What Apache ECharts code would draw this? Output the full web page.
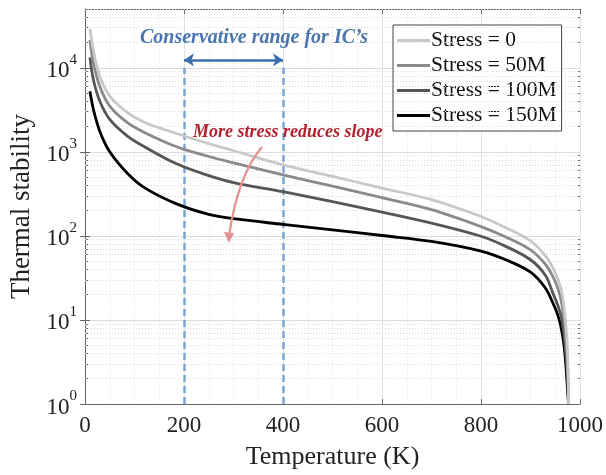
<!DOCTYPE html>
<html><head><meta charset="utf-8">
<script src="https://cdn.jsdelivr.net/npm/echarts@6/dist/echarts.min.js"></script>
<style>html,body{margin:0;padding:0;background:#fff}#c{width:606px;height:475px}</style>
</head><body><div id="c"></div>
<script>
// ---- data ----
const temperature = [10, 17, 30, 50, 85, 120, 185, 250, 300, 400, 500, 600, 700, 800, 850, 900, 930, 945, 955, 962, 968, 972, 975, 977];
const stress0   = [29000, 16000, 7900, 4600, 2950, 2250, 1650, 1250, 1030, 700, 510, 370, 270, 170, 125, 87, 58, 42, 31, 23, 14, 8, 4, 1];
const stress50  = [21500, 11400, 6000, 3500, 2240, 1700, 1150, 880, 740, 532, 390, 285, 205, 129, 97, 68, 46, 33, 24, 17, 10, 5.5, 2.8, 1];
const stress100 = [13300, 7200, 4000, 2430, 1550, 1150, 720, 520, 430, 335, 255, 192, 142, 99, 75, 52, 34, 21, 15, 11, 6.5, 3.6, 2, 1];
const stress150 = [5250, 3190, 1750, 1000, 560, 375, 240, 180, 160, 137, 118, 101, 86, 66, 52, 37, 24, 16, 11.5, 8, 4.8, 2.6, 1.4, 1];
const seriesNames = ['Stress = 0', 'Stress = 50M', 'Stress = 100M', 'Stress = 150M'];
const xTicks = [0, 200, 400, 600, 800, 1000];
const yDecades = [1, 10, 100, 1000, 10000];
const rangeBounds = [200, 400];
const rangeLineTop = 10000;
const arrowLevel = 12400;

const colors = ['#c9c9c9', '#8a8a8a', '#565656', '#000000'];
const allValues = [stress0, stress50, stress100, stress150];

const FONT = "'Liberation Serif', 'Times New Roman', serif";

// minor grid values (log 2..9)
const minorVals = [];
for (const d of yDecades) for (let k = 2; k <= 9; k++) { const v = d * k; if (v <= 50000) minorVals.push(v); }

const series = allValues.map((vals, i) => ({
  name: seriesNames[i], type: 'line', smooth: 0.35, symbol: 'none',
  data: temperature.map((t, j) => [t, vals[j]]),
  lineStyle: { color: colors[i], width: 2.8 }, itemStyle: { color: colors[i] },
  z: 10 - i, clip: true
}));

series.push({
  name: 'grid', type: 'line', data: [], silent: true, symbol: 'none',
  markLine: {
    silent: true, symbol: 'none', label: { show: false }, animation: false,
    lineStyle: { color: '#d8d8d8', type: [1, 2], width: 1 },
    data: minorVals.map(v => ({ yAxis: v }))
  }
});
series.push({
  name: 'range', type: 'line', data: [], silent: true, symbol: 'none', z: 5,
  markLine: {
    silent: true, symbol: 'none', label: { show: false }, animation: false,
    lineStyle: { color: '#7aa6d6', type: [7, 4], width: 2.5 },
    data: rangeBounds.map(b => [{ coord: [b, 1] }, { coord: [b, rangeLineTop] }])
  }
});
series.push({
  name: 'arrow', type: 'line', data: [], silent: true, symbol: 'none', z: 6,
  markLine: {
    silent: true, symbol: ['arrow', 'arrow'], symbolSize: [10, 10], label: { show: false }, animation: false,
    lineStyle: { color: '#3c6fb0', type: 'solid', width: 2.5 },
    data: [[{ coord: [rangeBounds[0], arrowLevel] }, { coord: [rangeBounds[1], arrowLevel] }]]
  }
});

const supLabel = v => {
  const e = Math.round(Math.log10(v));
  return '{b|10}{s|' + e + '}';
};

const chart = echarts.init(document.getElementById('c'), null, { renderer: 'canvas' });
chart.setOption({
  animation: false,
  backgroundColor: '#fff',
  grid: { left: 85, right: 26, top: 9, bottom: 68, containLabel: false },
  legend: {
    data: seriesNames, orient: 'vertical', left: 393, top: 25,
    icon: 'rect', itemWidth: 33, itemHeight: 3, itemGap: 0,
    padding: [3, 5, 3, 4],
    backgroundColor: '#fff', borderColor: '#444', borderWidth: 1,
    textStyle: { fontFamily: FONT, fontSize: 21.5, color: '#111', lineHeight: 25, padding: [0, 0, 0, -4] }
  },
  xAxis: [{
    type: 'value', min: 0, max: 1000, interval: 200,
    name: 'Temperature (K)', nameLocation: 'middle', nameGap: 40,
    nameTextStyle: { fontFamily: FONT, fontSize: 26, color: '#222' },
    axisLine: { show: true, lineStyle: { color: '#666', width: 1 } },
    axisTick: { show: true, inside: true, length: 5, lineStyle: { color: '#666' } },
    axisLabel: { fontFamily: FONT, fontSize: 23, color: '#222', margin: 10,
      customValues: xTicks, formatter: v => String(v) },
    splitLine: { show: true, lineStyle: { color: '#e2e2e2', width: 1 } },
    minorTick: { show: false, splitNumber: 4 },
    minorSplitLine: { show: true, lineStyle: { color: '#e4e4e4', type: [1, 2], width: 1 } }
  }, {
    type: 'value', min: 0, max: 1000, interval: 200, position: 'top',
    axisLine: { show: true, lineStyle: { color: '#666', width: 1 } },
    axisTick: { show: true, inside: true, length: 5, lineStyle: { color: '#666' } },
    axisLabel: { show: false }, splitLine: { show: false }
  }],
  yAxis: [{
    type: 'log', logBase: 10, min: 1, max: 50000,
    name: 'Thermal stability', nameLocation: 'middle', nameGap: 35, nameRotate: 90,
    nameTextStyle: { fontFamily: FONT, fontSize: 27, color: '#222' },
    axisLine: { show: true, lineStyle: { color: '#666', width: 1 } },
    axisTick: { show: true, inside: true, length: 5, lineStyle: { color: '#666' }, customValues: yDecades },
    axisLabel: {
      margin: 8, customValues: yDecades, formatter: supLabel,
      rich: {
        b: { fontFamily: FONT, fontSize: 23, color: '#222', lineHeight: 30, verticalAlign: 'bottom' },
        s: { fontFamily: FONT, fontSize: 15, color: '#222', lineHeight: 15, verticalAlign: 'top' }
      }
    },
    splitLine: { show: true, lineStyle: { color: '#dcdcdc', width: 1 } }
  }, {
    type: 'log', logBase: 10, min: 1, max: 50000, position: 'right',
    axisLine: { show: true, lineStyle: { color: '#666', width: 1 } },
    axisTick: { show: true, inside: true, length: 5, lineStyle: { color: '#666' }, customValues: yDecades },
    axisLabel: { show: false }, splitLine: { show: false }
  }, {
    type: 'log', logBase: 10, min: 1, max: 50000, position: 'left',
    axisLine: { show: false },
    axisTick: { show: true, inside: true, length: 3, lineStyle: { color: '#777' }, customValues: minorVals },
    axisLabel: { show: false }, splitLine: { show: false }
  }, {
    type: 'log', logBase: 10, min: 1, max: 50000, position: 'right',
    axisLine: { show: false },
    axisTick: { show: true, inside: true, length: 3, lineStyle: { color: '#777' }, customValues: minorVals },
    axisLabel: { show: false }, splitLine: { show: false }
  }],
  series: series,
  graphic: [
    { type: 'text', left: 140, top: 28, z: 100,
      style: { text: 'Conservative range for IC\u2019s', font: "italic bold 20px 'Liberation Serif'", fill: '#4a75ad' } },
    { type: 'text', left: 193, top: 123, z: 100,
      style: { text: 'More stress reduces slope', font: "italic bold 18px 'Liberation Serif'", fill: '#b5202e' } },
    { type: 'bezierCurve', z: 100,
      shape: { x1: 262, y1: 147, x2: 229, y2: 236, cpx1: 238, cpy1: 175 },
      style: { stroke: '#e4908f', lineWidth: 2.2, fill: null } },
    { type: 'polygon', z: 100,
      shape: { points: [[224, 232], [234, 233], [229, 243]] },
      style: { fill: '#e4908f' } }
  ]
});
</script></body></html>
